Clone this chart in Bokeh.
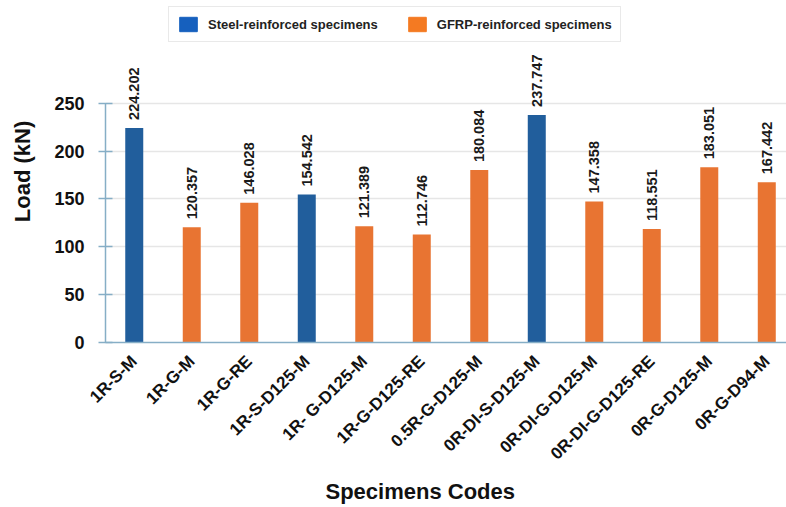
from bokeh.plotting import figure
from bokeh.models import (ColumnDataSource, Range1d, FixedTicker, Legend, LegendItem, Title)
from bokeh.core.properties import value
from bokeh.embed import file_html
from bokeh.resources import INLINE
import math

# ---- data ----
specimens = ["1R-S-M", "1R-G-M", "1R-G-RE", "1R-S-D125-M", "1R- G-D125-M", "1R-G-D125-RE",
             "0.5R-G-D125-M", "0R-DI-S-D125-M", "0R-DI-G-D125-M", "0R-DI-G-D125-RE",
             "0R-G-D125-M", "0R-G-D94-M"]
loads = [224.202, 120.357, 146.028, 154.542, 121.389, 112.746,
         180.084, 237.747, 147.358, 118.551, 183.051, 167.442]
reinforcement = ["Steel", "GFRP", "GFRP", "Steel", "GFRP", "GFRP",
                 "GFRP", "Steel", "GFRP", "GFRP", "GFRP", "GFRP"]
y_ticks = [0, 50, 100, 150, 200, 250]

BLUE = "#215E9C"
ORANGE = "#E87432"
AXIS_C = "#86AEC6"

idx = list(range(len(specimens)))
colors = [BLUE if r == "Steel" else ORANGE for r in reinforcement]
labels = ["%.3f" % v for v in loads]
src = ColumnDataSource(dict(x=idx, y=loads, color=colors, lab=labels))

p = figure(width=786, height=507, output_backend="svg", toolbar_location=None,
           x_range=Range1d(-0.5, 11.343), y_range=Range1d(0, 357.29),
           min_border_left=105, min_border_right=0, min_border_top=0, min_border_bottom=164)
p.outline_line_color = None
p.background_fill_color = "white"
p.border_fill_color = "white"

p.vbar(x="x", top="y", width=0.313, color="color", source=src, line_color=None)
p.text(x="x", y="y", text="lab", source=src, angle=math.pi / 2, text_align="left",
       text_baseline="middle", y_offset=-8, text_font=value("Liberation Sans"),
       text_font_style="bold", text_font_size="14.5px", text_color="#1a1a1a")

# legend proxies
nan = float("nan")
r1 = p.vbar(x=[nan], top=[nan], width=0.3, color="#1660BE")
r2 = p.vbar(x=[nan], top=[nan], width=0.3, color="#F47A22")
leg = Legend(items=[LegendItem(label="Steel-reinforced specimens", renderers=[r1]),
                    LegendItem(label="GFRP-reinforced specimens", renderers=[r2])],
             orientation="horizontal", location=(63, 300))
leg.glyph_width = 22
leg.glyph_height = 18
leg.label_height = 18
leg.label_standoff = 9
leg.spacing = 28
leg.padding = 8
leg.margin = 0
leg.border_line_color = "#d4d4d4"
leg.border_line_width = 1.5
leg.background_fill_color = "white"
leg.background_fill_alpha = 1
leg.label_text_font = "Liberation Sans"
leg.label_text_font_style = "bold"
leg.label_text_font_size = "13px"
leg.label_text_color = "#222222"
p.add_layout(leg, "center")

# y axis
ya = p.yaxis[0]
ya.ticker = FixedTicker(ticks=y_ticks)
ya.bounds = (0, 250)
ya.axis_line_color = AXIS_C
ya.axis_line_width = 1.5
ya.major_tick_line_color = AXIS_C
ya.major_tick_line_width = 1.5
ya.major_tick_in = 7
ya.major_tick_out = 7
ya.minor_tick_line_color = None
ya.major_label_standoff = 14
ya.major_label_text_font = "Liberation Sans"
ya.major_label_text_font_style = "bold"
ya.major_label_text_font_size = "18px"
ya.major_label_text_color = "#111111"
ya.axis_label = "Load (kN)"
ya.axis_label_text_font = "Liberation Sans"
ya.axis_label_text_font_style = "bold"
ya.axis_label_text_font_size = "22px"
ya.axis_label_text_color = "#111111"
ya.axis_label_standoff = 16

# x axis
xa = p.xaxis[0]
xa.ticker = FixedTicker(ticks=idx)
xa.major_label_overrides = {i: s for i, s in zip(idx, specimens)}
xa.major_label_orientation = math.pi / 4
xa.axis_line_color = AXIS_C
xa.axis_line_width = 1.5
xa.major_tick_line_color = None
xa.minor_tick_line_color = None
xa.major_label_standoff = 10
xa.major_label_text_font = "Liberation Sans"
xa.major_label_text_font_style = "bold"
xa.major_label_text_font_size = "17px"
xa.major_label_text_color = "#111111"

p.xgrid.grid_line_color = None
p.ygrid.grid_line_color = "#e6e6e6"
p.ygrid.grid_line_width = 1.5

title_x = Title(text="Specimens Codes", align="left", offset=220, standoff=7,
                text_font="Liberation Sans", text_font_style="bold",
                text_font_size="22px", text_color="#111111")
p.add_layout(title_x, "below")

open("out.html", "w").write(file_html(p, INLINE))
